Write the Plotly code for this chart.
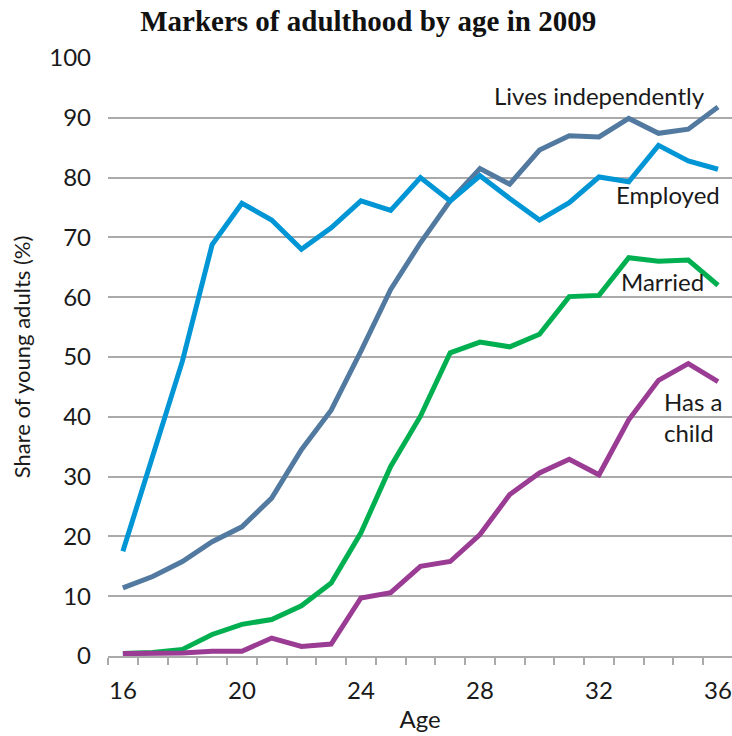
import plotly.graph_objects as go

ages = list(range(16, 37))
lives_independently = [11.4, 13.3, 15.8, 19.1, 21.6, 26.4, 34.5, 41.1, 51.0, 61.3, 69.1,
                       76.1, 81.5, 78.9, 84.6, 87.0, 86.8, 89.9, 87.4, 88.1, 91.8]
employed = [17.5, 33.7, 49.3, 68.8, 75.7, 72.9, 68.0, 71.6, 76.1, 74.5, 80.0,
            76.1, 80.3, 76.5, 72.9, 75.8, 80.1, 79.3, 85.4, 82.8, 81.4]
married = [0.4, 0.6, 1.1, 3.6, 5.3, 6.1, 8.4, 12.2, 20.6, 31.7, 40.1,
           50.7, 52.5, 51.7, 53.8, 60.1, 60.3, 66.6, 66.0, 66.2, 62.0]
has_child = [0.4, 0.4, 0.5, 0.8, 0.8, 3.0, 1.6, 2.0, 9.7, 10.6, 15.0,
             15.8, 20.3, 27.0, 30.6, 32.9, 30.3, 39.5, 46.1, 48.9, 45.9]

x_tick_labels = [16, 20, 24, 28, 32, 36]
y_ticks = list(range(0, 101, 10))

series = [
    ("Lives independently", lives_independently, "#52799F"),
    ("Employed", employed, "#0096D6"),
    ("Married", married, "#00B050"),
    ("Has a child", has_child, "#9A3B94"),
]

fig = go.Figure()
for name, vals, color in series:
    fig.add_trace(go.Scatter(x=ages, y=vals, mode="lines", name=name,
                             line=dict(color=color, width=5), cliponaxis=False))

label_font = dict(family="Lato", size=24, color="#1a1a1a")
fig.add_annotation(x=35.63, y=93.8, text="Lives independently", showarrow=False,
                   xanchor="right", yanchor="middle", font=label_font)
fig.add_annotation(x=36.13, y=77.2, text="Employed", showarrow=False,
                   xanchor="right", yanchor="middle", font=label_font)
fig.add_annotation(x=35.6, y=62.7, text="Married", showarrow=False,
                   xanchor="right", yanchor="middle", font=label_font)
fig.add_annotation(x=34.12, y=40.0, text="Has a<br>child", showarrow=False,
                   xanchor="left", yanchor="middle", align="left", font=label_font)

fig.update_layout(
    width=732, height=736,
    margin=dict(l=108, r=0, t=58, b=80),
    plot_bgcolor="white", paper_bgcolor="white",
    showlegend=False,
    title=dict(text="<b>Markers of adulthood by age in 2009</b>", x=0.503, xanchor="center",
               y=0.972, yanchor="middle",
               font=dict(family="Liberation Serif", size=29, color="#111")),
    font=dict(family="Lato", size=20, color="#1a1a1a"),
)
fig.update_xaxes(
    range=[15.5, 36.47], tickvals=x_tick_labels, ticktext=[str(v) for v in x_tick_labels],
    showgrid=False, zeroline=False, showline=True, linecolor="#aaaaaa", linewidth=2,
    ticks="", ticklabelstandoff=12,
    minor=dict(tickvals=[a - 0.5 for a in ages] + [36.5], ticks="outside", ticklen=7,
               tickcolor="#aaaaaa", tickwidth=1.5, showgrid=False),
    title=dict(text="Age", font=dict(size=24), standoff=8),
    tickfont=dict(size=24),
)
fig.update_yaxes(
    range=[0, 100], tickvals=y_ticks, showgrid=True, gridcolor="#aaaaaa", gridwidth=2,
    zeroline=False, ticks="", ticklabelstandoff=16, tickfont=dict(size=24),
    title=dict(text="Share of young adults (%)", font=dict(size=22), standoff=12),
)

fig.write_html("out.html")
